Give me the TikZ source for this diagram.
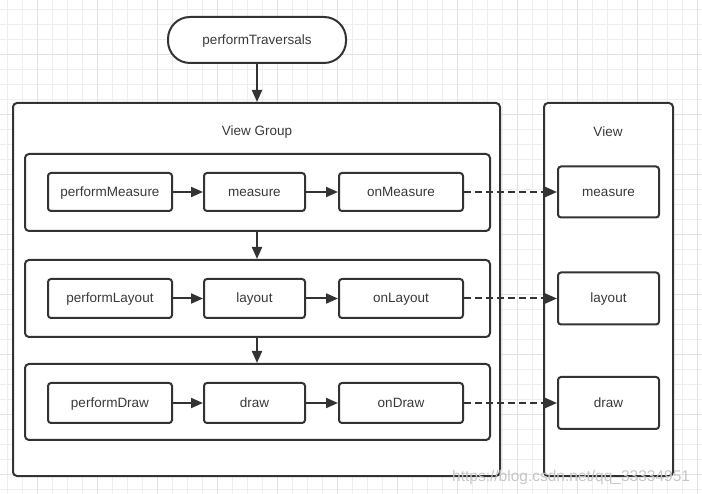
\documentclass[tikz,border=0pt]{standalone}
\usepackage{fontspec}
\setmainfont{Liberation Sans}
\usetikzlibrary{arrows.meta}
\definecolor{ink}{HTML}{333333}
\definecolor{txt}{HTML}{3A3A3A}
\definecolor{gridminor}{HTML}{EEEEEE}
\definecolor{gridmajor}{HTML}{E2E2E2}
\begin{document}
\begin{tikzpicture}[x=1pt,y=-1pt,
  every node/.style={font=\fontsize{13.5}{16}\selectfont, text=txt},
  box/.style={draw=ink, line width=2pt, fill=white, rounded corners=3pt, inner sep=0pt, text height=10pt, text depth=1pt},
  outerbox/.style={draw=ink, line width=2pt, fill=white, rounded corners=4pt, inner sep=0pt},
  arr/.style={draw=ink, line width=2pt, -{Triangle[length=12pt,width=10pt]}},
  darr/.style={arr, dash pattern=on 7pt off 4pt},
  gminor/.style={draw=gridminor, line width=1pt},
  gmajor/.style={draw=gridmajor, line width=1pt}
]
\fill[white] (0,0) rectangle (702,494);
\useasboundingbox (0,0) rectangle (702,494);
% grid
\foreach \x in {7.3,22.3,...,702} \draw[gminor] (\x,0) -- (\x,494);
\foreach \y in {9.3,24.3,...,494} \draw[gminor] (0,\y) -- (702,\y);
\foreach \x in {37.3,97.3,...,702} \draw[gmajor] (\x,0) -- (\x,494);
\foreach \y in {54.3,114.3,...,494} \draw[gmajor] (0,\y) -- (702,\y);

% top
\node[box, rounded corners=22pt, minimum width=178pt, minimum height=46pt] (pt) at (257,40) {performTraversals};

% view group
\node[outerbox, minimum width=487pt, minimum height=373pt] (vg) at (256.5,289.5) {};
\node (vgl) at (257,132) {View Group};
\node[box, rounded corners=4pt, minimum width=465pt, minimum height=77pt] (r1) at (257.5,192.5) {};
\node[box, rounded corners=4pt, minimum width=465pt, minimum height=77pt] (r2) at (257.5,298.5) {};
\node[box, rounded corners=4pt, minimum width=465pt, minimum height=76pt] (r3) at (257.5,402) {};

\node[box, minimum width=124pt, minimum height=38pt] (pm) at (110,192) {performMeasure};
\node[box, minimum width=101pt, minimum height=38pt] (m) at (254.5,192) {measure};
\node[box, minimum width=124pt, minimum height=38pt] (om) at (401,192) {onMeasure};

\node[box, minimum width=124pt, minimum height=39pt] (pl) at (110,298.5) {performLayout};
\node[box, minimum width=101pt, minimum height=39pt] (l) at (254.5,298.5) {layout};
\node[box, minimum width=124pt, minimum height=39pt] (ol) at (401,298.5) {onLayout};

\node[box, minimum width=124pt, minimum height=40pt] (pd) at (110,403) {performDraw};
\node[box, minimum width=101pt, minimum height=40pt] (d) at (254.5,403) {draw};
\node[box, minimum width=124pt, minimum height=40pt] (od) at (401,403) {onDraw};

% view
\node[outerbox, minimum width=129pt, minimum height=373pt] (v) at (608.5,289.5) {};
\node (vl) at (608,132) {View};
\node[box, minimum width=101pt, minimum height=51pt] (vm) at (608.5,192) {measure};
\node[box, minimum width=101pt, minimum height=52pt] (vly) at (608.5,298.5) {layout};
\node[box, minimum width=101pt, minimum height=52pt] (vd) at (608.5,403) {draw};

% arrows
\draw[arr] (pt.south) -- (vg.north -| pt.south);
\draw[arr] (r1.south -| pt.south) -- (r2.north -| pt.south);
\draw[arr] (r2.south -| pt.south) -- (r3.north -| pt.south);

\draw[arr] (pm) -- (m);
\draw[arr] (m) -- (om);
\draw[arr] (pl) -- (l);
\draw[arr] (l) -- (ol);
\draw[arr] (pd) -- (d);
\draw[arr] (d) -- (od);

\draw[darr] (om.east) -- (vm.west);
\draw[darr] (ol.east) -- (vly.west);
\draw[darr] (od.east) -- (vd.west);

% watermark
\node[anchor=base west, inner sep=0pt, text=black!22, font=\fontsize{15.5}{18}\selectfont] (wm) at (452,482) {https://blog.csdn.net/qq\_33334951};
\end{tikzpicture}
\end{document}
